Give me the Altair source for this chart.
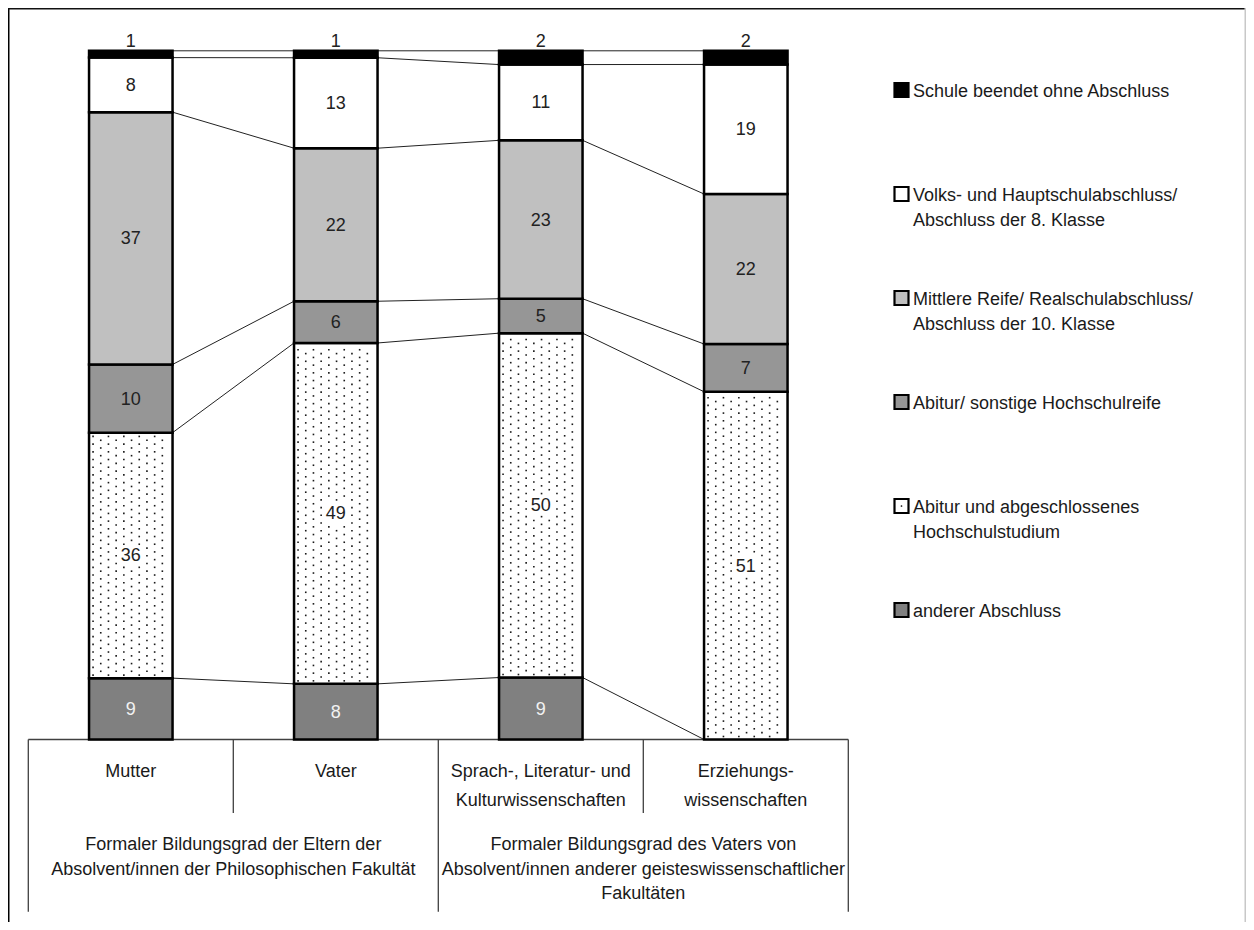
import altair as alt
import pandas as pd
import numpy as np

# ---------------- data ----------------
categories = ["Mutter", "Vater", "Sprach-, Literatur- und Kulturwissenschaften", "Erziehungswissenschaften"]
category_lines = [["Mutter"], ["Vater"],
                  ["Sprach-, Literatur- und", "Kulturwissenschaften"],
                  ["Erziehungs-", "wissenschaften"]]
group_lines = [["Formaler Bildungsgrad der Eltern der",
                "Absolvent/innen der Philosophischen Fakultät"],
               ["Formaler Bildungsgrad des Vaters von",
                "Absolvent/innen anderer geisteswissenschaftlicher",
                "Fakultäten"]]
group_members = [[0, 1], [2, 3]]

series_names = ["Schule beendet ohne Abschluss",
                "Volks- und Hauptschulabschluss/ Abschluss der 8. Klasse",
                "Mittlere Reife/ Realschulabschluss/ Abschluss der 10. Klasse",
                "Abitur/ sonstige Hochschulreife",
                "Abitur und abgeschlossenes Hochschulstudium",
                "anderer Abschluss"]
legend_lines = [["Schule beendet ohne Abschluss"],
                ["Volks- und Hauptschulabschluss/", "Abschluss der 8. Klasse"],
                ["Mittlere Reife/ Realschulabschluss/", "Abschluss der 10. Klasse"],
                ["Abitur/ sonstige Hochschulreife"],
                ["Abitur und abgeschlossenes", "Hochschulstudium"],
                ["anderer Abschluss"]]

schule = [1, 1, 2, 2]
volks = [8, 13, 11, 19]
mittlere = [37, 22, 23, 22]
abitur = [10, 6, 5, 7]
hochschul = [36, 49, 50, 51]
anderer = [9, 8, 9, 0]

values = dict(zip(series_names, [schule, volks, mittlere, abitur, hochschul, anderer]))
stack_order = list(reversed(series_names))  # bottom -> top
colors = {series_names[0]: "#000000", series_names[1]: "#ffffff", series_names[2]: "#c0c0c0",
          series_names[3]: "#969696", series_names[4]: "#ffffff", series_names[5]: "#808080"}

# ---------------- layout ----------------
W, H = 1238, 914
PX_UNIT = 205.0         # px per category band
X0 = 20.3               # chart px of band edge 0
PX_PCT = 6.887          # px per percent
Y0 = 731.5              # chart px of 0 %
HW = 41.75 / PX_UNIT    # half bar width in band units
FONT = "Liberation Sans, Arial, Helvetica, sans-serif"
FS = 18


def ux(page_x):
    return ((page_x - 8) - X0) / PX_UNIT


def uy(page_y):
    return (Y0 - (page_y - 8)) / PX_PCT


xs = alt.Scale(domain=[-X0 / PX_UNIT, (W - X0) / PX_UNIT], nice=False, zero=False)
ys = alt.Scale(domain=[-(H - Y0) / PX_PCT, Y0 / PX_PCT], nice=False, zero=False)


def X(f):
    return alt.X(f, type="quantitative", scale=xs, axis=None)


def Y(f):
    return alt.Y(f, type="quantitative", scale=ys, axis=None)


# ---------------- derived tables ----------------
seg_rows = []
tops = {}
for i, cat in enumerate(categories):
    total = sum(values[s][i] for s in series_names)
    cum = 0
    for s in stack_order:
        v = values[s][i]
        y0 = cum / total * 100
        cum += v
        y1 = cum / total * 100
        tops[(s, i)] = y1
        seg_rows.append(dict(cat=cat, series=s, value=v, y0=y0, y1=y1,
                             xl=i + 0.5 - HW, xr=i + 0.5 + HW, xc=i + 0.5,
                             ym=(y0 + y1) / 2, label=str(v)))
seg = pd.DataFrame(seg_rows)
seg_nz = seg[seg.value > 0]

conn_rows = []
for s in stack_order:
    for i in range(len(categories) - 1):
        conn_rows.append(dict(series=s, x=i + 0.5 + HW, x2=i + 1.5 - HW,
                              y=tops[(s, i)], y2=tops[(s, i + 1)]))
conn = pd.DataFrame(conn_rows)

# dot texture for "Hochschulstudium" segments (left clear behind the value label)
dot_rows = []
dxu = 7.7 / PX_UNIT
dyp = 3.85 / PX_PCT
mx = 4.0 / PX_UNIT
my = 3.0 / PX_PCT
clear_x = 13.0 / PX_UNIT
clear_y = 10.5 / PX_PCT
for r in seg_rows:
    if r["series"] != series_names[4] or r["value"] == 0:
        continue
    j = 0
    y = r["y0"] + my
    while y <= r["y1"] - my:
        x = r["xl"] + mx + (j % 2) * dxu
        while x <= r["xr"] - 3.0 / PX_UNIT:
            if not (abs(x - r["xc"]) < clear_x and abs(y - r["ym"]) < clear_y):
                dot_rows.append(dict(x=x, y=y))
            x += 2 * dxu
        y += dyp
        j += 1
dots = pd.DataFrame(dot_rows)

# table lines
edges = pd.DataFrame(dict(x=[0, 1, 2, 3, 4],
                          y2=[uy(911.7), uy(813), uy(911.7), uy(813), uy(911.7)]))
edges["y"] = 0.0
hline = pd.DataFrame(dict(x=[0.0], x2=[4.0], y=[0.0]))

# texts below axis
txt_rows = []
for i, lines in enumerate(category_lines):
    for k, t in enumerate(lines):
        txt_rows.append(dict(x=i + 0.5, y=uy(777 + 29 * k), text=t))
for g, lines in enumerate(group_lines):
    xc = (group_members[g][0] + group_members[g][-1] + 1) / 2
    for k, t in enumerate(lines):
        txt_rows.append(dict(x=xc, y=uy(850 + 24.5 * k), text=t))
axis_txt = pd.DataFrame(txt_rows)

# legend
leg_sym = pd.DataFrame(dict(series=series_names,
                            x=[ux(901.5)] * 6,
                            y=[uy(90 + 104 * i) for i in range(6)]))
leg_txt_rows = []
for i, lines in enumerate(legend_lines):
    for k, t in enumerate(lines):
        leg_txt_rows.append(dict(x=ux(913), y=uy(96.5 + 104 * i + 25 * k), text=t))
leg_txt = pd.DataFrame(leg_txt_rows)
leg_dot = leg_sym[leg_sym.series == series_names[4]]

one = pd.DataFrame(dict(a=[0]))

# ---------------- layers ----------------
frame_left = alt.Chart(one).mark_rule(color="#000000", strokeWidth=1.5).encode(
    x=alt.value(0.75), y=alt.value(0), y2=alt.value(H))
frame_top = alt.Chart(one).mark_rule(color="#111111", strokeWidth=1.5).encode(
    y=alt.value(0.75), x=alt.value(0), x2=alt.value(W))
frame_right = alt.Chart(one).mark_rule(color="#c8c8c8", strokeWidth=1.5).encode(
    x=alt.value(W - 0.75), y=alt.value(0), y2=alt.value(H))

hl = alt.Chart(hline).mark_rule(color="#404040", strokeWidth=1.3).encode(
    x=X("x"), x2="x2", y=Y("y"))
vl = alt.Chart(edges).mark_rule(color="#404040", strokeWidth=1.3).encode(
    x=X("x"), y=Y("y"), y2="y2")

cl = alt.Chart(conn).mark_rule(color="#222222", strokeWidth=1).encode(
    x=X("x"), x2="x2", y=Y("y"), y2="y2", detail="series:N")

color_scale = alt.Scale(domain=series_names, range=[colors[s] for s in series_names])

bars = alt.Chart(seg_nz).mark_rect(stroke="#000000", strokeWidth=2.5).encode(
    x=X("xl"), x2="xr", y=Y("y0"), y2="y1",
    fill=alt.Fill("series:N", scale=color_scale, legend=None))

dot_layer = alt.Chart(dots).mark_square(size=2.6, color="#1a1a1a", opacity=1).encode(
    x=X("x"), y=Y("y"))

lab_dark = alt.Chart(seg_nz).transform_filter(
    alt.FieldOneOfPredicate(field="series", oneOf=series_names[1:5])
).mark_text(font=FONT, fontSize=FS, color="#222222", baseline="middle", dy=1).encode(
    x=X("xc"), y=Y("ym"), text="label:N")
lab_light = alt.Chart(seg_nz).transform_filter(
    alt.FieldEqualPredicate(field="series", equal=series_names[5])
).mark_text(font=FONT, fontSize=FS, color="#f2f2f2", baseline="middle", dy=1).encode(
    x=X("xc"), y=Y("ym"), text="label:N")
lab_top = alt.Chart(seg_nz).transform_filter(
    alt.FieldEqualPredicate(field="series", equal=series_names[0])
).mark_text(font=FONT, fontSize=FS, color="#222222", baseline="alphabetic", dy=-4).encode(
    x=X("xc"), y=Y("y1"), text="label:N")

axis_text = alt.Chart(axis_txt).mark_text(font=FONT, fontSize=FS, color="#1a1a1a",
                                          baseline="alphabetic", align="center").encode(
    x=X("x"), y=Y("y"), text="text:N")

leg_sq = alt.Chart(leg_sym).mark_square(size=196, stroke="#000000", strokeWidth=2.2, opacity=1).encode(
    x=X("x"), y=Y("y"), fill=alt.Fill("series:N", scale=color_scale, legend=None))
leg_d = alt.Chart(leg_dot).mark_circle(size=3, color="#000000", opacity=1).encode(
    x=X("x"), y=Y("y"))
leg_t = alt.Chart(leg_txt).mark_text(font=FONT, fontSize=FS, color="#1a1a1a",
                                     baseline="alphabetic", align="left").encode(
    x=X("x"), y=Y("y"), text="text:N")

chart = alt.layer(
    frame_left, frame_top, frame_right, hl, vl, cl, bars, dot_layer,
    lab_dark, lab_light, lab_top, axis_text, leg_sq, leg_d, leg_t
).properties(
    width=W, height=H, padding=0, autosize=alt.AutoSizeParams(type="none")
).configure_view(strokeWidth=0)

chart.save("out.html", embed_options={"renderer": "svg", "actions": False})
